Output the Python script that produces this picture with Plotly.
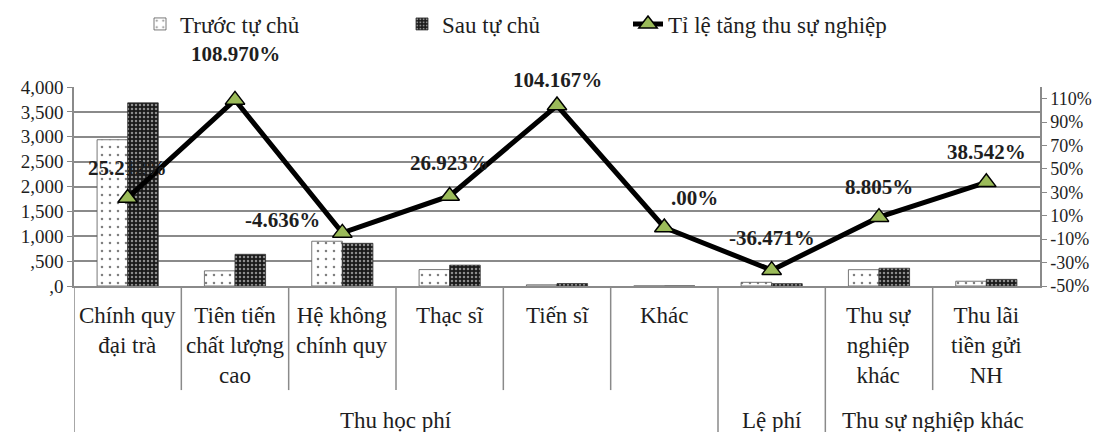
import plotly.graph_objects as go

# ---- data ----
categories = ["Chính quy<br>đại trà", "Tiên tiến<br>chất lượng<br>cao", "Hệ không<br>chính quy",
              "Thạc sĩ", "Tiến sĩ", "Khác", "", "Thu sự<br>nghiệp<br>khác", "Thu lãi<br>tiền gửi<br>NH"]
groups = ["Thu học phí", "Lệ phí", "Thu sự nghiệp khác"]
group_spans = [(0, 5), (6, 6), (7, 8)]
truoc = [2940, 305, 900, 330, 24, 0, 74, 328, 96]
sau = [3681, 637, 858, 419, 49, 0, 47, 357, 133]
ti_le = [25.212, 108.970, -4.636, 26.923, 104.167, 0.0, -36.471, 8.805, 38.542]
left_ticks = [0, 500, 1000, 1500, 2000, 2500, 3000, 3500, 4000]
left_ticktext = [",0", ",500", "1,000", "1,500", "2,000", "2,500", "3,000", "3,500", "4,000"]
right_ticks = [-50, -30, -10, 10, 30, 50, 70, 90, 110]

# label offsets (pixels) for the rate labels
label_dx = [0, 0, -60, 0, 0, 30, 0, 0, 0]
label_dy = [30, 46, 13, 33, 26, 29, 32, 30, 30]

FONT = '"Liberation Serif", serif'
GRID = "#8a8a8a"
TXT = "#1e1e1e"
x = list(range(len(categories)))


def fmt(v):
    return ".00%" if v == 0 else f"{v:.3f}%"


fig = go.Figure()
fig.add_trace(go.Bar(
    x=x, y=truoc, name="Trước tự chủ", legend="legend2",
    marker=dict(color="white", line=dict(color="#555", width=0.8),
                pattern=dict(shape=".", fgcolor="black", bgcolor="white", size=8, solidity=0.08)),
))
fig.add_trace(go.Bar(
    x=x, y=sau, name="Sau tự chủ", legend="legend3",
    marker=dict(color="#1a1a1a", line=dict(color="#333", width=0.8),
                pattern=dict(shape=".", fgcolor="white", bgcolor="#1a1a1a", size=4, solidity=0.3)),
))
fig.add_trace(go.Scatter(
    x=x, y=ti_le, name="Tỉ lệ tăng thu sự nghiệp", yaxis="y2", legend="legend4",
    mode="lines+markers",
    line=dict(color="black", width=5),
    marker=dict(symbol="triangle-up", size=17, color="#9BBB59", line=dict(color="black", width=1.5)),
))

annotations = []
for i, v in enumerate(ti_le):
    annotations.append(dict(x=i, y=v, xref="x", yref="y2", text=f"<b>{fmt(v)}</b>", showarrow=False,
                            xshift=label_dx[i], yshift=label_dy[i],
                            font=dict(family=FONT, size=21, color=TXT)))
for i, c in enumerate(categories):
    if c:
        annotations.append(dict(x=i, y=0, xref="x", yref="paper", text=c, showarrow=False,
                                yanchor="top", yshift=-15, align="center",
                                font=dict(family=FONT, size=23, color=TXT)))
for g, (a, b) in zip(groups, group_spans):
    annotations.append(dict(x=(a + b) / 2, y=0, xref="x", yref="paper", text=g, showarrow=False,
                            yanchor="top", yshift=-120, align="center",
                            font=dict(family=FONT, size=23, color=TXT)))

shapes = []
n = len(categories)
group_bounds = [a for a, b in group_spans]
for k in range(n):
    xb = k - 0.5
    y1 = -0.734 if k in group_bounds else -0.523
    shapes.append(dict(type="line", xref="x", yref="paper", x0=xb, x1=xb, y0=0, y1=y1,
                       line=dict(color=GRID, width=1.5)))

leg_common = dict(yref="container", y=1 - 24 / 432, xanchor="left", yanchor="middle", orientation="h",
                  font=dict(family=FONT, size=23, color=TXT), bgcolor="rgba(0,0,0,0)")

fig.update_layout(
    width=1104, height=432,
    margin=dict(l=74, r=64, t=87, b=146),
    paper_bgcolor="white", plot_bgcolor="white",
    font=dict(family=FONT, size=18, color=TXT),
    barmode="group", bargap=0.43, bargroupgap=0,
    xaxis=dict(range=[-0.5, n - 0.5], showticklabels=False, showgrid=False, zeroline=False,
               showline=True, linecolor=GRID, linewidth=1.5, ticks=""),
    yaxis=dict(range=[0, 4000], tickvals=left_ticks, ticktext=left_ticktext,
               showgrid=True, gridcolor=GRID, gridwidth=1.5, zeroline=False,
               showline=True, linecolor=GRID, linewidth=1.5, ticks="outside", ticklen=5,
               tickcolor=GRID, tickfont=dict(family=FONT, size=19, color=TXT)),
    yaxis2=dict(range=[-50, 120], overlaying="y", side="right", tickvals=right_ticks,
                ticktext=[f"{t}%" for t in right_ticks], showgrid=False, zeroline=False,
                showline=True, linecolor=GRID, linewidth=1.5, ticks="outside", ticklen=5,
                tickcolor=GRID, tickfont=dict(family=FONT, size=18, color=TXT)),
    legend2=dict(x=(140 - 74) / 966, **leg_common),
    legend3=dict(x=(402 - 74) / 966, **leg_common),
    legend4=dict(x=(628 - 74) / 966, **leg_common),
    annotations=annotations,
    shapes=shapes,
)

fig.write_html("out.html")
